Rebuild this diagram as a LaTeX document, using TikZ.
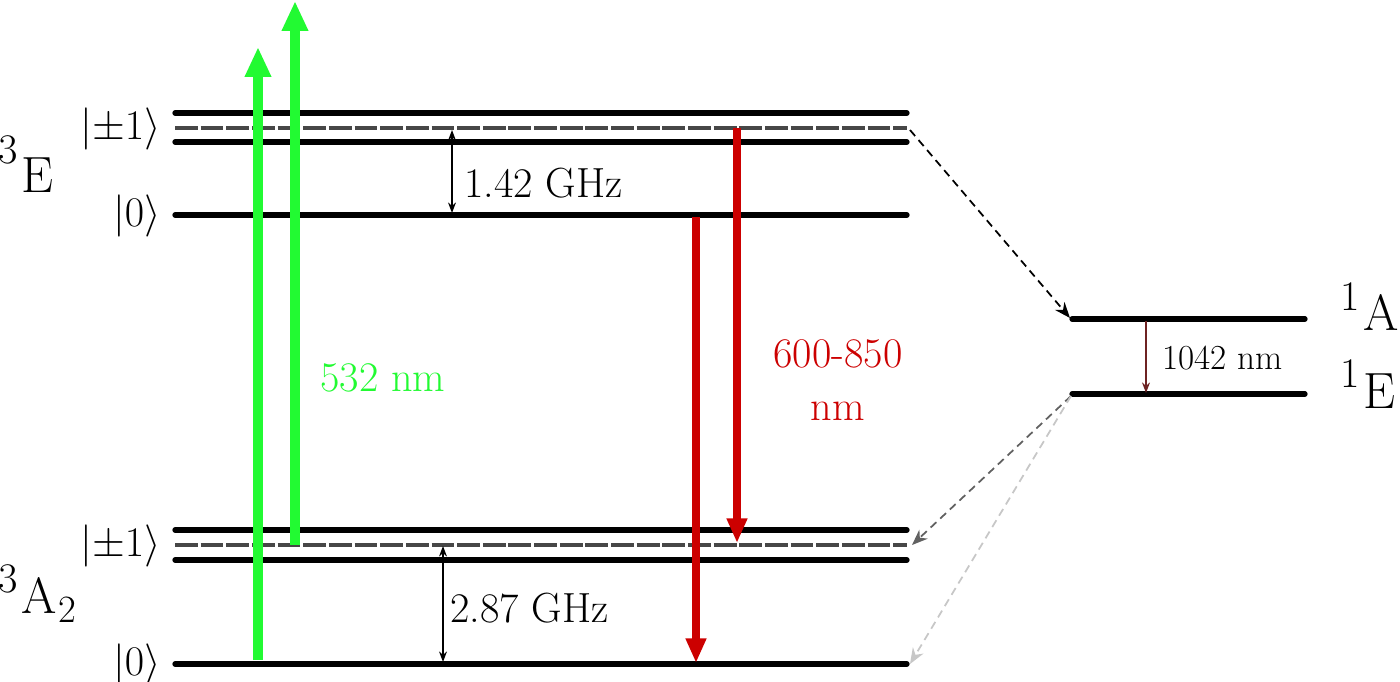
\RequirePackage{fix-cm}
\documentclass[tikz,border=0pt]{standalone}
\usetikzlibrary{arrows.meta}
\definecolor{lgreen}{RGB}{34,250,50}
\definecolor{lred}{RGB}{204,0,0}
\definecolor{dred}{RGB}{110,35,35}
\newcommand{\supdig}[2]{\raisebox{#1}{\fontsize{24}{24}\selectfont #2}\kern2pt}
\newcommand{\subdig}[1]{\kern1pt\raisebox{-5.6pt}{\fontsize{22}{22}\selectfont #1}}
\begin{document}
\begin{tikzpicture}[x=0.02cm,y=-0.02cm,
  level/.style={line width=3pt,line cap=round},
  midlevel/.style={line width=1.9pt,draw=black!72,dash pattern=on 13pt off 1.6pt},
  greenarrow/.style={draw=lgreen,line width=5.6pt,-{Triangle[width=14pt,length=17pt]}},
  redarrow/.style={draw=lred,line width=4.4pt,-{Triangle[width=11pt,length=14pt]}},
  gap/.style={line width=0.8pt,{Stealth[length=6pt,width=4.5pt]}-{Stealth[length=6pt,width=4.5pt]}},
  isc/.style={line width=1pt,dash pattern=on 4.5pt off 3pt,-{Stealth[length=9pt,width=7pt]}},
  lbl/.style={inner sep=0pt,font=\fontsize{24}{29}\selectfont},
  big/.style={inner sep=0pt,font=\fontsize{29}{34}\selectfont}]
\useasboundingbox (0,0) rectangle (1400,682);
% coordinates of levels
\coordinate (Eu1) at (175,113); \coordinate (Eu2) at (907,113);
\coordinate (Em1) at (175,128); \coordinate (Em2) at (907,128);
\coordinate (El1) at (175,142); \coordinate (El2) at (907,142);
\coordinate (E01) at (175,215); \coordinate (E02) at (907,215);
\coordinate (Au1) at (175,530); \coordinate (Au2) at (907,530);
\coordinate (Am1) at (175,545); \coordinate (Am2) at (907,545);
\coordinate (Al1) at (175,560); \coordinate (Al2) at (907,560);
\coordinate (A01) at (175,664); \coordinate (A02) at (907,664);
\coordinate (S11) at (1072,319); \coordinate (S12) at (1305,319);
\coordinate (S21) at (1072,394); \coordinate (S22) at (1305,394);
% levels
\draw[level] (Eu1) -- (Eu2);
\draw[midlevel] (Em1) -- (Em2);
\draw[level] (El1) -- (El2);
\draw[level] (E01) -- (E02);
\draw[level] (Au1) -- (Au2);
\draw[midlevel] (Am1) -- (Am2);
\draw[level] (Al1) -- (Al2);
\draw[level] (A01) -- (A02);
\draw[level] (S11) -- (S12);
\draw[level] (S21) -- (S22);
% state labels
\node[lbl,anchor=east] (lE1) at (161,129) {$|{\pm}1\rangle$};
\node[lbl,anchor=east] (lE0) at (161,216) {$|0\rangle$};
\node[lbl,anchor=east] (lA1) at (161,546) {$|{\pm}1\rangle$};
\node[lbl,anchor=east] (lA0) at (161,665) {$|0\rangle$};
\node[big,anchor=base west] (tE) at (-2,193) {\supdig{17pt}{3}E};
\node[big,anchor=base west] (tA) at (-2,613) {\supdig{11.5pt}{3}A\subdig{2}};
\node[big,anchor=base west] (s1A) at (1340,331) {\supdig{11.5pt}{1}A};
\node[big,anchor=base west] (s1E) at (1340,408) {\supdig{11.5pt}{1}E};
% green excitation
\coordinate (g1s) at (258,660); \coordinate (g1e) at (258,47);
\coordinate (g2s) at (295,545); \coordinate (g2e) at (295,1);
\draw[greenarrow] (g1s) -- (g1e);
\draw[greenarrow] (g2s) -- (g2e);
\node[lbl,anchor=west,text=lgreen] (gl) at (320,378) {532 nm};
% red emission
\coordinate (r1s) at (696,217); \coordinate (r1e) at (696,663);
\coordinate (r2s) at (737,128); \coordinate (r2e) at (737,543);
\draw[redarrow] (r1s) -- (r1e);
\draw[redarrow] (r2s) -- (r2e);
\node[lbl,text=lred,align=center] (rl) at (838,380) {600-850\\[1pt]nm};
% splittings
\coordinate (d1a) at (452,130); \coordinate (d1b) at (452,213);
\draw[gap] (d1a) -- (d1b);
\node[lbl,anchor=west] (dl1) at (464,183) {1.42 GHz};
\coordinate (d2a) at (443,546); \coordinate (d2b) at (443,662);
\draw[gap] (d2a) -- (d2b);
\node[lbl,anchor=west] (dl2) at (450,608) {2.87 GHz};
% singlet
\coordinate (sa) at (1146,321); \coordinate (sb) at (1146,393);
\draw[dred,line width=1pt,-{Stealth[length=6pt,width=4.5pt]}] (sa) -- (sb);
\node[inner sep=0pt,anchor=west,font=\fontsize{20}{24}\selectfont] (sl) at (1162,358) {1042 nm};
% intersystem crossing
\coordinate (i1s) at (910,130); \coordinate (i1e) at (1070,318);
\draw[isc,black] (i1s) -- (i1e);
\coordinate (i2s) at (1071,396); \coordinate (i2e) at (912,545);
\draw[isc,black!62] (i2s) -- (i2e);
\coordinate (i3e) at (910,664);
\draw[isc,black!22] (i2s) -- (i3e);
\end{tikzpicture}
\end{document}
